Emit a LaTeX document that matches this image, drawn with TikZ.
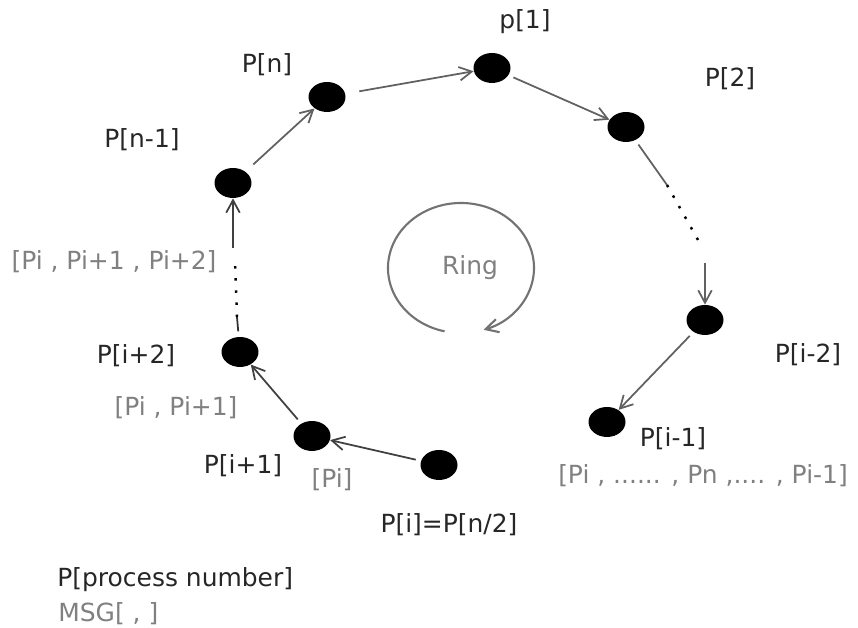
\documentclass[tikz,border=0pt]{standalone}
\usepackage{fontspec}
\setmainfont{DejaVu Sans}
\usetikzlibrary{arrows.meta, calc, positioning, shapes.geometric}

\begin{document}
\begin{tikzpicture}[>={Straight Barb[length=2.5mm, width=2.7mm]}, font=\fontsize{14.2}{17}\selectfont,
  dot/.style={ellipse, fill=black, minimum width=0.74cm, minimum height=0.60cm, inner sep=0pt},
  lbl/.style={text=black!85, inner sep=0pt},
  msg/.style={text=black!50, inner sep=0pt},
  link/.style={->, draw=black!62, line width=1pt, shorten <=3pt},
  dotline/.style={draw=black, line width=1.4pt, dash pattern=on 1.4pt off 5.5pt}]
  \useasboundingbox (0,0) rectangle (17.16,12.56);

  % processes on the ring
  \foreach \name/\x/\y in {P1/9.84/11.20, P2/12.52/10.02, Pim2/14.10/6.16, Pim1/12.14/4.12, Pi/8.78/3.26,
                           Pip1/6.24/3.84, Pip2/4.80/5.52, Pnm1/4.66/8.90, Pn/6.54/10.62}
    {\node[dot] (\name) at (\x,\y) {};}

  % process names
  \node[lbl] (lP1) at (10.50,12.12) {p[1]};
  \node[lbl] (lP2) at (14.60,10.98) {P[2]};
  \node[lbl] (lPn) at (5.34,11.26) {P[n]};
  \node[lbl] (lPnm1) at (2.84,9.76) {P[n-1]};
  \node[lbl] (lPip2) at (2.72,5.44) {P[i+2]};
  \node[lbl] (lPip1) at (4.86,3.24) {P[i+1]};
  \node[lbl] (lPi) at (8.98,2.06) {P[i]=P[n/2]};
  \node[lbl] (lPim2) at (16.16,5.46) {P[i-2]};
  \node[lbl] (lPim1) at (13.46,3.78) {P[i-1]};

  % messages
  \node[msg] (m1) at (6.64,2.96) {[Pi]};
  \node[msg] (m2) at (3.52,4.40) {[Pi , Pi+1]};
  \node[msg] (m3) at (2.28,7.32) {[Pi , Pi+1 , Pi+2]};
  \node[msg] (mall) at (14.06,3.04) {[Pi , ...... , Pn ,.... , Pi-1]};

  % links
  \coordinate (r1) at (13.34,8.86);
  \coordinate (r2) at (14.04,7.62);
  \coordinate (r3) at (14.10,7.30);
  \coordinate (l1) at (4.74,6.22);
  \coordinate (l2) at (4.70,7.36);
  \coordinate (l3) at (4.66,7.60);
  \draw[link, shorten <=8pt] (Pn) -- (P1);
  \draw[link] (P1) -- (P2);
  \draw[link, -] (P2) -- (r1);
  \draw[dotline] (r1) -- (r2);
  \draw[link, shorten <=0pt] (r3) -- (Pim2);
  \draw[link] (Pim2) -- (Pim1);
  \draw[link, draw=black!75] (Pi) -- (Pip1);
  \draw[link, draw=black!75] (Pip1) -- (Pip2);
  \draw[link, -, draw=black!80] (Pip2) -- (l1);
  \draw[dotline] (l1) -- (l2);
  \draw[link, shorten <=0pt, draw=black!75] (l3) -- (Pnm1);
  \draw[link, shorten <=6pt] (Pnm1) -- (Pn);

  % ring
  \coordinate (ringc) at (9.22,7.20);
  \node[msg] (ring) at (9.40,7.20) {Ring};
  \draw[->, draw=black!55, line width=1.2pt] ([shift={(257:1.46 and 1.30)}]ringc)
    arc[start angle=257, end angle=-72, x radius=1.46, y radius=1.30];

  % legend
  \node[lbl, anchor=west] (legP) at (1.14,0.96) {P[process number]};
  \node[msg, anchor=west] (legM) at (1.16,0.28) {MSG[ , ]};
\end{tikzpicture}
\end{document}
